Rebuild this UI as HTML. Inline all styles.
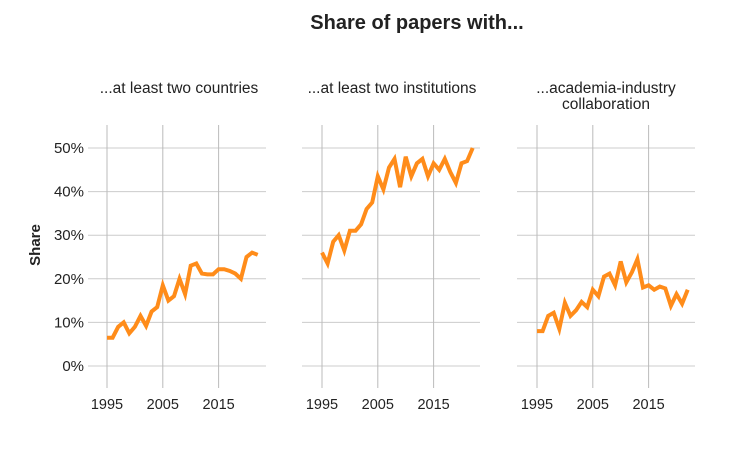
<!DOCTYPE html>
<html><head><meta charset="utf-8"><style>
body{margin:0;background:#fff;}
svg text{font-family:"Liberation Sans",sans-serif;fill:#222;}
</style></head><body>
<svg id="s" width="749" height="451" xmlns="http://www.w3.org/2000/svg">
<text x="417" y="29" font-size="20" font-weight="bold" text-anchor="middle" fill="#333">Share of papers with...</text>
<text x="179" y="93" font-size="15.5" text-anchor="middle">...at least two countries</text>
<text x="392" y="93" font-size="15.5" text-anchor="middle">...at least two institutions</text>
<text x="606" y="93" font-size="15.5" text-anchor="middle">...academia-industry</text>
<text x="606" y="109" font-size="15.5" text-anchor="middle">collaboration</text>
<text transform="translate(40,245) rotate(-90)" font-size="15" font-weight="bold" text-anchor="middle">Share</text>
</svg>
<script>
var s=document.getElementById('s'),NS='http://www.w3.org/2000/svg';
function el(t,a,txt){var e=document.createElementNS(NS,t);for(var k in a)e.setAttribute(k,a[k]);if(txt)e.textContent=txt;s.appendChild(e);return e;}
var data=[
[6.5,6.5,9,10,7.5,9,11.5,9.2,12.5,13.5,18.5,15,16,20,16.5,23,23.5,21.2,21,21,22.2,22.2,21.8,21.2,20,25,26,25.5],
[26,23.5,28.5,30,26.5,31,31,32.5,36,37.5,43.5,40.5,45.5,47.5,41,48,43.5,46.5,47.5,43.5,46.5,45,47.5,44.5,42,46.5,47,50],
[8,8,11.5,12.2,8.5,14.5,11.5,12.8,14.7,13.5,17.5,16,20.5,21.2,18.5,24,19.2,21.5,24.5,18,18.5,17.5,18.2,17.8,13.8,16.5,14.3,17.5]];
var x0=[107,322,537],left=[88,302,517],w=178;
function Y(v){return 366-v*4.36;}
for(var p=0;p<3;p++){
 for(var v=0;v<=50;v+=10){el('line',{x1:left[p],x2:left[p]+w,y1:Y(v),y2:Y(v),stroke:'#ccc','stroke-width':1});}
 [1995,2005,2015].forEach(function(yr){var x=x0[p]+(yr-1995)*5.58;el('line',{x1:x,x2:x,y1:125,y2:388,stroke:'#bbb','stroke-width':1});el('text',{x:x,y:409,'font-size':14.5,'text-anchor':'middle'},String(yr));});
 var pts=data[p].map(function(v,i){return (x0[p]+i*5.58).toFixed(1)+','+Y(v).toFixed(1);}).join(' ');
 el('polyline',{points:pts,fill:'none',stroke:'#ff8c1a','stroke-width':4,'stroke-linejoin':'miter'});
}
for(var v=0;v<=50;v+=10)el('text',{x:84,y:Y(v)+5,'font-size':15,'text-anchor':'end'},v+'%');
</script>
</body></html>
